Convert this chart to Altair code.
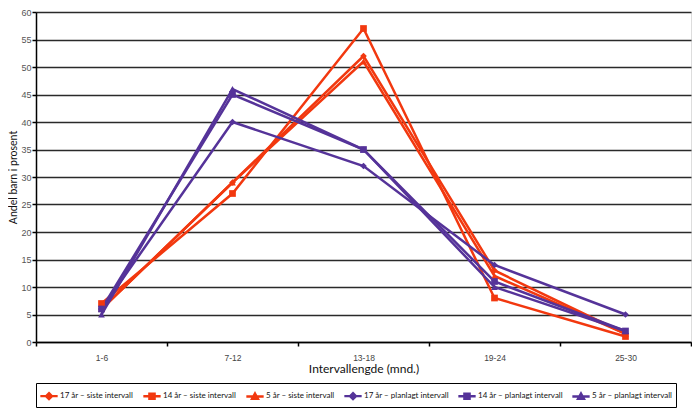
import altair as alt
import pandas as pd

categories = ["1-6", "7-12", "13-18", "19-24", "25-30"]
series = [
    "17 år – siste intervall",
    "14 år – siste intervall",
    "5 år – siste intervall",
    "17 år – planlagt intervall",
    "14 år – planlagt intervall",
    "5 år – planlagt intervall",
]
values_17_siste = [6, 29, 52, 13, 1.5]
values_14_siste = [7, 27, 57, 8, 1]
values_5_siste = [6, 29, 51, 12, 1.5]
values_17_plan = [6, 40, 32, 14, 5]
values_14_plan = [6, 45, 35, 11, 2]
values_5_plan = [5, 46, 35, 10, 2]

all_values = [values_17_siste, values_14_siste, values_5_siste,
              values_17_plan, values_14_plan, values_5_plan]

RED = "#f2380f"
PURPLE = "#553399"
colors = [RED, RED, RED, PURPLE, PURPLE, PURPLE]
shapes = ["diamond", "square", "triangle-up", "diamond", "square", "triangle-up"]
# legend symbols: short line with the marker in the middle (inner copies fill the marker)
line_part = "M-1,0H1"
diamond_p = "M0,-0.34L0.34,0L0,0.34L-0.34,0ZM0,-0.15L0.15,0L0,0.15L-0.15,0Z"
square_p = "M-0.3,-0.3H0.3V0.3H-0.3ZM-0.12,-0.12H0.12V0.12H-0.12Z"
triangle_p = "M0,-0.34L0.34,0.27H-0.34ZM0,-0.1L0.12,0.12H-0.12Z"
legend_shapes = [
    line_part + diamond_p,
    line_part + square_p,
    line_part + triangle_p,
    line_part + diamond_p,
    line_part + square_p,
    line_part + triangle_p,
]

rows = []
for s, vals in zip(series, all_values):
    for c, v in zip(categories, vals):
        rows.append({"Intervall": c, "Serie": s, "Prosent": v})
df = pd.DataFrame(rows)

x_enc = alt.X("Intervall:N", sort=categories,
              scale=alt.Scale(type="band", paddingInner=0, paddingOuter=0),
              axis=alt.Axis(title="Intervallengde (mnd.)", labelAngle=0,
                            tickBand="extent", domainColor="black", tickColor="black",
                            domainWidth=1.5, tickWidth=1.5,
                            tickSize=4, labelPadding=7, labelFontSize=8.5,
                            labelColor="#444", titleFontSize=12, titlePadding=2,
                            titleFont="Lato", titleFontWeight="normal",
                            titleColor="#111", labelFont="Liberation Sans"))
y_enc = alt.Y("Prosent:Q",
              scale=alt.Scale(domain=[0, 60], nice=False),
              axis=alt.Axis(title="Andel barn i prosent", values=list(range(0, 61, 5)),
                            grid=True, gridColor="#2a2a2a", gridWidth=1.6,
                            domainColor="black", tickColor="black", tickSize=4,
                            domainWidth=1.5, tickWidth=1.5,
                            labelFontSize=9, labelColor="#555", labelPadding=1,
                            labelFont="Liberation Sans", titleFontSize=10.5,
                            titleFont="Lato", titleFontWeight="normal",
                            titleColor="#111", titlePadding=2))

color_scale = alt.Scale(domain=series, range=colors)

lines = alt.Chart(df).mark_line(strokeWidth=2.5).encode(
    x=x_enc, y=y_enc,
    color=alt.Color("Serie:N", scale=color_scale, legend=None),
    detail="Serie:N",
)

points = alt.Chart(df).mark_point(filled=True, size=45, opacity=1).encode(
    x=x_enc, y=y_enc,
    color=alt.Color("Serie:N", scale=color_scale, legend=None),
    shape=alt.Shape("Serie:N", scale=alt.Scale(domain=series, range=shapes), legend=None),
)

legend_def = alt.Legend(title=None, orient="none", legendX=0, legendY=371,
                        direction="horizontal", columns=6,
                        symbolSize=300, symbolOpacity=1,
                        symbolStrokeWidth=2.4,
                        labelFontSize=8, labelFont="Lato",
                        labelColor="#111", columnPadding=4,
                        strokeColor="black", padding=3,
                        labelOffset=1)

legend_layer = alt.Chart(df).mark_point(opacity=0, filled=False, strokeWidth=2.4).encode(
    x=x_enc, y=y_enc,
    color=alt.Color("Serie:N", scale=alt.Scale(domain=series, range=colors), legend=legend_def),
    shape=alt.Shape("Serie:N", scale=alt.Scale(domain=series, range=legend_shapes),
                    legend=legend_def),
)

chart = alt.layer(lines, points, legend_layer).resolve_scale(
    shape="independent", color="independent"
).properties(
    width=655, height=330, padding=0
).configure_view(stroke=None).configure(background="white")

chart.save("out.html", embed_options={"renderer": "svg", "actions": False})
